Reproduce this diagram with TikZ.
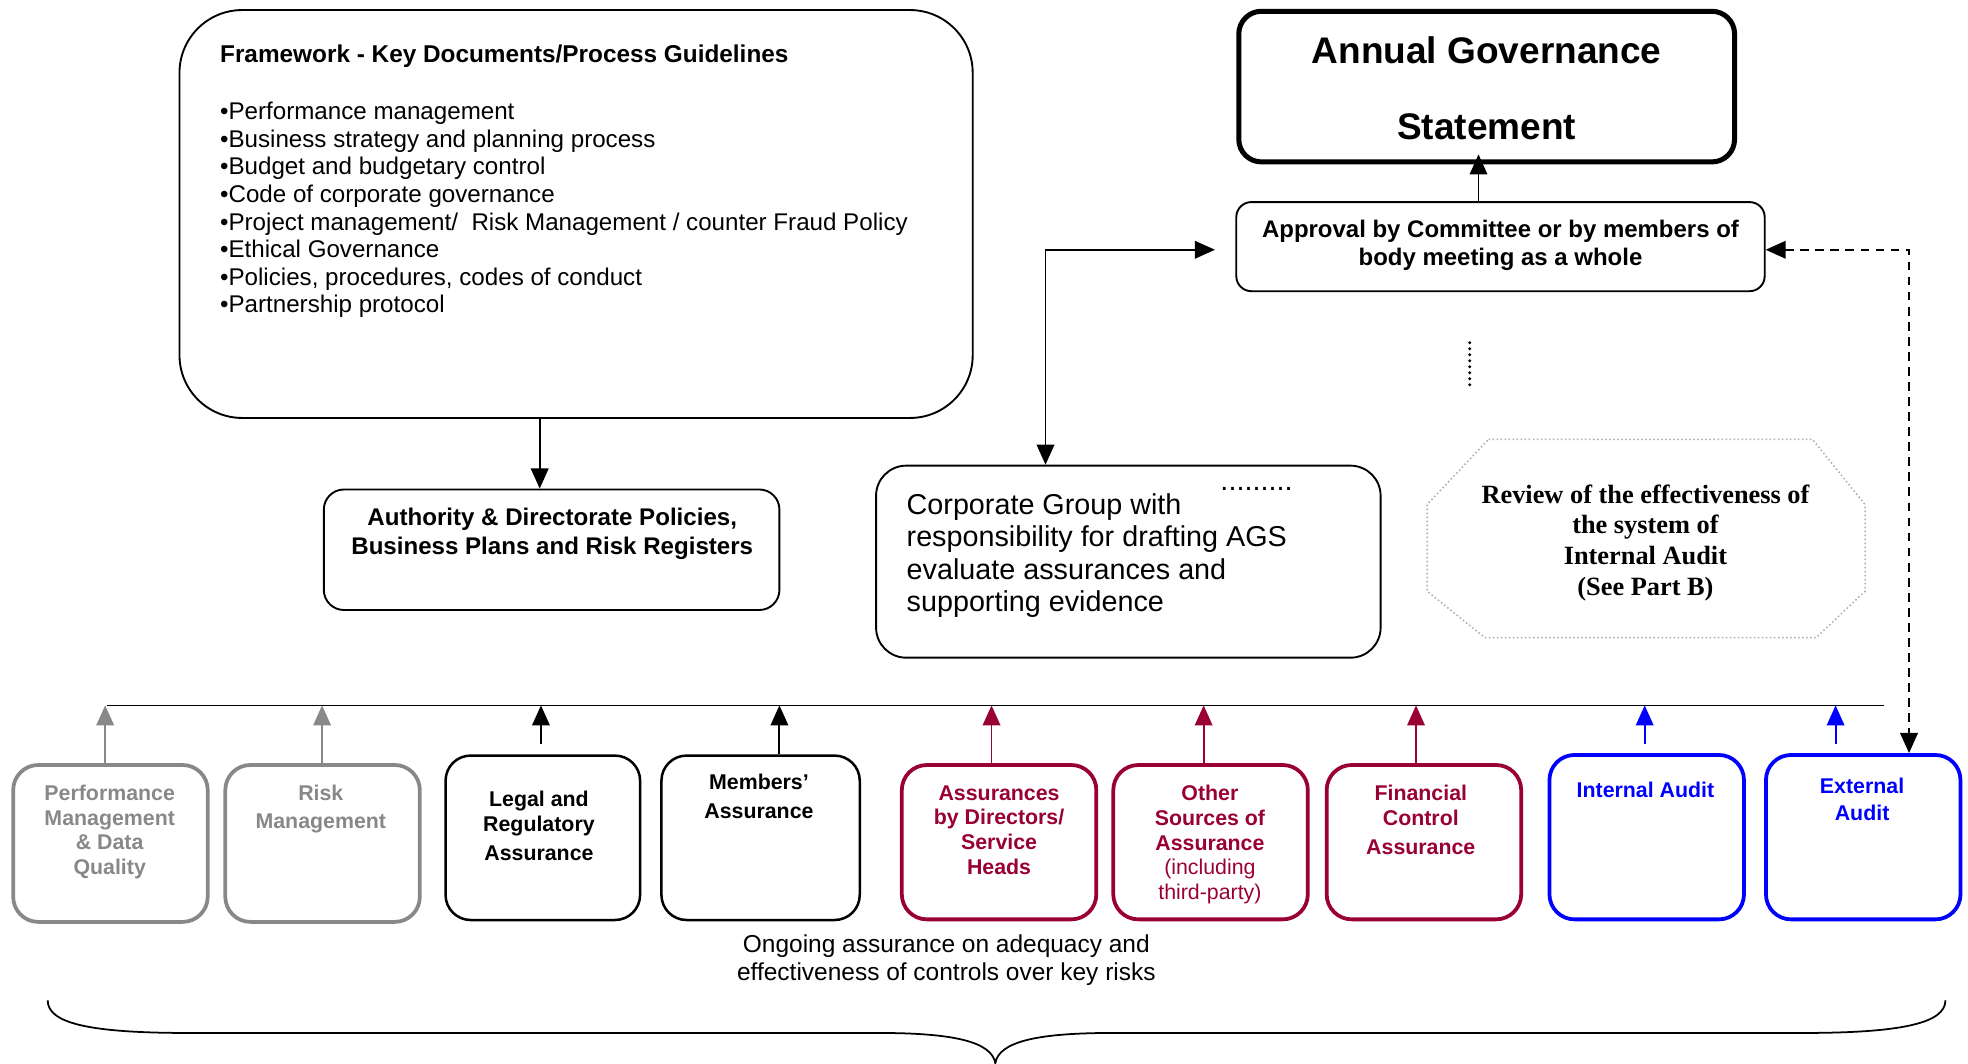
\documentclass[tikz,border=0pt]{standalone}
\usepackage{fontspec}
\setmainfont{Liberation Sans}
\newfontfamily\serifb{Liberation Serif}
\usetikzlibrary{arrows.meta}
\definecolor{grayc}{HTML}{888888}
\definecolor{maroonc}{HTML}{990033}
\definecolor{bluec}{HTML}{0000FF}
\definecolor{octc}{HTML}{AAAAAA}
\tikzset{
  thinbox/.style={draw, line width=0.75pt, inner sep=0pt},
  gbox/.style={draw=grayc, line width=1.5pt, inner sep=0pt, rounded corners=10pt, minimum width=77.5pt, minimum height=62.5pt},
  kbox/.style={draw=black, line width=1pt, inner sep=0pt, rounded corners=10pt, minimum height=65.5pt},
  mbox/.style={draw=maroonc, line width=1.5pt, inner sep=0pt, rounded corners=10pt, minimum width=77.5pt, minimum height=61.5pt},
  bbox/.style={draw=bluec, line width=1.5pt, inner sep=0pt, rounded corners=10pt, minimum width=77.5pt, minimum height=65.5pt},
  txt/.style={inner sep=0pt, align=center, anchor=north},
  btxt/.style={txt, font=\fontsize{8.5}{9.85}\selectfont\bfseries},
  arr/.style={-{Triangle[length=8pt,width=7pt]}, line width=0.75pt},
  darr/.style={{Triangle[length=8pt,width=7pt]}-{Triangle[length=8pt,width=7pt]}, line width=0.75pt},
}
\begin{document}
\begin{tikzpicture}[x=0.5pt,y=-0.5pt]
\useasboundingbox (0,0) rectangle (1568,847);

% top-left framework
\node[thinbox, rounded corners=25pt, minimum width=316pt, minimum height=162.5pt] (framework) at (459,170.5) {};
\node[inner sep=0pt, anchor=north west, font=\fontsize{9.7}{11}\selectfont\bfseries] (fwtitle) at (175,35) {Framework - Key Documents/Process Guidelines};
\node[inner sep=0pt, anchor=north west, align=left, font=\fontsize{9.62}{11}\selectfont] (fwlist) at (175,81) {%
•Performance management\\
•Business strategy and planning process\\
•Budget and budgetary control\\
•Code of corporate governance\\
•Project management/~ Risk Management / counter Fraud Policy\\
•Ethical Governance\\
•Policies, procedures, codes of conduct\\
•Partnership protocol};

\node[thinbox, rounded corners=8pt, minimum width=181.5pt, minimum height=48pt] (authority) at (439.5,438) {};
\node[txt, font=\fontsize{9.6}{11.5}\selectfont\bfseries] (authtext) at (440,404.7) {Authority \& Directorate Policies,\\Business Plans and Risk Registers};

\node[thinbox, rounded corners=12pt, minimum width=201pt, minimum height=76.5pt] (corporate) at (899,447.5) {};
\node[inner sep=0pt, anchor=north west, align=left, font=\fontsize{11.45}{13}\selectfont] (corptext) at (722,392.6) {Corporate Group with\\responsibility for drafting AGS\\evaluate assurances and\\supporting evidence};
\node[inner sep=0pt, anchor=base west, font=\fontsize{11.5}{13}\selectfont] (corpdots) at (972,391) {.........};

% AGS and approval
\node[draw, line width=2pt, inner sep=0pt, rounded corners=9pt, minimum width=197.5pt, minimum height=60pt] (ags) at (1184.5,69) {};
\node[txt, font=\fontsize{14.75}{30}\selectfont\bfseries] (agstext) at (1184.5,29) {Annual Governance\\Statement};

\node[thinbox, rounded corners=6pt, minimum width=210.5pt, minimum height=35.5pt] (approval) at (1195.5,196.5) {};
\node[txt, font=\fontsize{9.55}{11}\selectfont\bfseries] (apptext) at (1195.5,175) {Approval by Committee or by members of\\body meeting as a whole};

% octagon
\draw[octc, densely dotted, line width=0.6pt] (1186,350) -- (1444,350) -- (1486,402) -- (1486,471) -- (1447,508) -- (1183,508) -- (1137,471) -- (1137,402) -- cycle;
\node[txt, font=\fontsize{10.5}{12.25}\selectfont\serifb\bfseries] (octtext) at (1311,385.6) {Review of the effectiveness of\\the system of\\Internal Audit\\(See Part B)};

% bottom boxes
\node[gbox] (b1) at (88,672) {};
\node[gbox] (b2) at (257,672) {};
\node[kbox, minimum width=77.5pt] (b3) at (432.5,667.5) {};
\node[kbox, minimum width=79pt] (b4) at (606,667.5) {};
\node[mbox] (b5) at (796,671) {};
\node[mbox] (b6) at (964.5,671) {};
\node[mbox] (b7) at (1134.5,671) {};
\node[bbox] (b8) at (1312,667) {};
\node[bbox] (b9) at (1484.5,667) {};

\node[btxt, text=grayc] (t1) at (87.4,625) {Performance\\Management\\\& Data\\Quality};
\node[btxt, text=grayc] (t2) at (255.6,625) {Risk\\[1.2pt]Management};
\node[btxt] (t3) at (429.4,629.8) {Legal and\\Regulatory\\[1.85pt]Assurance};
\node[btxt] (t4) at (604.7,616.5) {Members’\\[1.75pt]Assurance};
\node[btxt, text=maroonc] (t5) at (796,625.3) {Assurances\\by Directors/\\Service\\Heads};
\node[btxt, text=maroonc] (t6) at (964,625.3) {Other\\Sources of\\Assurance\\\mdseries(including\\\mdseries third-party)};
\node[btxt, text=maroonc] (t7) at (1132,625.3) {Financial\\Control\\[1.85pt]Assurance};
\node[btxt, text=bluec] (t8) at (1311,622.4) {Internal Audit};
\node[btxt, text=bluec] (t9) at (1483.6,619.2) {External\\[1pt]Audit};

\node[txt, font=\fontsize{9.75}{11}\selectfont] (ongoing) at (754,744.5) {Ongoing assurance on adequacy and\\effectiveness of controls over key risks};

% bus line
\coordinate (busL) at (85.4,562);
\coordinate (busR) at (1501,562);
\draw[line width=0.7pt] (busL) -- (busR);

\coordinate (a1) at (83.8,0);
\coordinate (a2) at (256.6,0);
\coordinate (a3) at (431,593);
\coordinate (a4) at (621,0);
\coordinate (a5) at (790,0);
\coordinate (a6) at (959,0);
\coordinate (a7) at (1128.2,0);
\coordinate (a8) at (1310.4,593);
\coordinate (a9) at (1462.5,593);
\draw[arr, grayc] (b1.north -| a1) -- (a1 |- busL);
\draw[arr, grayc] (b2.north -| a2) -- (a2 |- busL);
\draw[arr] (a3) -- (a3 |- busL);
\draw[arr] (b4.north -| a4) -- (a4 |- busL);
\draw[arr, maroonc] (b5.north -| a5) -- (a5 |- busL);
\draw[arr, maroonc] (b6.north -| a6) -- (a6 |- busL);
\draw[arr, maroonc] (b7.north -| a7) -- (a7 |- busL);
\draw[arr, bluec] (a8) -- (a8 |- busL);
\draw[arr, bluec] (a9) -- (a9 |- busL);

% connectors
\coordinate (fa) at (430,0);
\draw[arr] (framework.south -| fa) -- (authority.north -| fa);
\coordinate (ag) at (1178,123);
\draw[arr] (approval.north -| ag) -- (ag);
\coordinate (cy) at (833,199);
\coordinate (ct) at (968,199);
\draw[darr] (corporate.north -| cy) -- (cy) -- (ct);
\coordinate (dy) at (1521,199);
\draw[darr, dash pattern=on 3.5pt off 2.5pt] (dy -| approval.east) -- (dy) -- (dy |- b9.north);

% vertical dots
\coordinate (vd1) at (1171,273);
\coordinate (vd2) at (1171,308);
\draw[line width=1.3pt, line cap=round, dash pattern=on 0pt off 2.4pt] (vd1) -- (vd2);

% brace
\draw[line width=0.7pt] (38,797) .. controls (38,815) and (70,823) .. (150,823) -- (700,823) .. controls (760,823) and (790,830) .. (793,847) .. controls (796,830) and (826,823) .. (886,823) -- (1436,823) .. controls (1516,823) and (1550,815) .. (1550,797);
\end{tikzpicture}
\end{document}
